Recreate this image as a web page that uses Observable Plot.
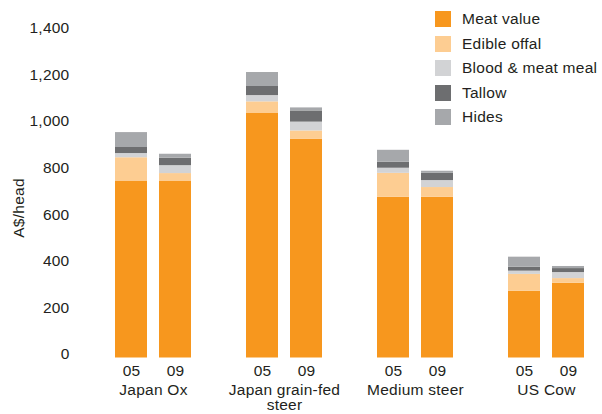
<!DOCTYPE html>
<html>
<head>
<meta charset="utf-8">
<script src="https://cdn.jsdelivr.net/npm/d3@7"></script>
<script src="https://cdn.jsdelivr.net/npm/@observablehq/plot@0.6"></script>
<style>
  body { margin: 0; background: #fff; font-family: "Liberation Sans", Arial, Helvetica, sans-serif; }
  #wrap { position: relative; width: 602px; height: 414px; overflow: hidden; }
  #legend { position: absolute; left: 0; top: 0; font-size: 15.5px; letter-spacing: 0.25px; color: #231f20; }
  .row { position: absolute; left: 435px; display: flex; align-items: center; height: 16px; white-space: nowrap; }
  .sw { width: 16px; height: 16px; margin-right: 11px; flex: none; }
  #ylab { position: absolute; left: 19px; top: 208px; transform: translate(-50%, -50%) rotate(-90deg);
          font-size: 15.5px; letter-spacing: 0.25px; color: #231f20; white-space: nowrap; }
</style>
</head>
<body>
<div id="wrap">
  <div id="chart"></div>
  <div id="ylab">A$/head</div>
  <div id="legend"></div>
</div>
<script>
// ---- data ----
const groups = ["Japan Ox", "Japan grain-fed steer", "Medium steer", "US Cow"];
const years = ["05", "09"];
const parts = ["Meat value", "Edible offal", "Blood & meat meal", "Tallow", "Hides"];
const colors = ["#F7971E", "#FDCD92", "#D2D3D5", "#6D6E70", "#A6A8AB"];
// values ordered: Ox05, Ox09, GF05, GF09, MS05, MS09, US05, US09
const meatValue = [760, 758, 1050, 940, 690, 690, 287, 321];
const edibleOffal = [100, 34, 50, 35, 103, 42, 72, 20];
const bloodMeal = [18, 34, 27, 38, 22, 30, 14, 26];
const tallow = [26, 32, 39, 48, 26, 31, 17, 17];
const hides = [64, 17, 60, 13, 51, 9, 43, 9];
const yTicks = [0, 200, 400, 600, 800, 1000, 1200, 1400];

const series = [meatValue, edibleOffal, bloodMeal, tallow, hides];
const rows = [];
series.forEach((vals, p) => {
  vals.forEach((v, i) => {
    rows.push({group: groups[Math.floor(i / 2)], year: years[i % 2], part: parts[p], value: v});
  });
});

const ink = "#231f20";
const chart = Plot.plot({
  width: 602,
  height: 414,
  marginLeft: 115,
  marginRight: 18,
  marginTop: 31.5,
  marginBottom: 56.5,
  style: {fontSize: "15.5px", letterSpacing: "0.25px", fontFamily: "'Liberation Sans', Arial, Helvetica, sans-serif", color: ink, background: "#fff"},
  fx: {domain: groups, paddingInner: 55 / 131, paddingOuter: 0, round: false, label: null},
  x: {domain: years, paddingInner: 12 / 44, paddingOuter: 0, round: false, label: null},
  y: {domain: [0, 1400], label: null},
  color: {domain: parts, range: colors},
  marks: [
    Plot.barY(rows, {fx: "group", x: "year", y: "value", fill: "part", order: parts}),
    Plot.axisY({ticks: yTicks, tickSize: 0, tickPadding: 46, dy: -3.7, label: null, tickFormat: d3.format(",")}),
    Plot.axisX({tickSize: 0, tickPadding: 7, label: null}),
    Plot.axisFx({anchor: "bottom", tickSize: 0, tickPadding: 25.5, label: null, lineHeight: 1.0,
      tickFormat: d => d === "Japan grain-fed steer" ? "Japan grain-fed\nsteer" : d})
  ]
});
document.getElementById("chart").appendChild(chart);

// legend
const legend = document.getElementById("legend");
const centers = [19, 43.5, 68, 92.5, 117];
parts.forEach((p, i) => {
  const r = document.createElement("div");
  r.className = "row";
  r.style.top = (centers[i] - 8) + "px";
  r.innerHTML = `<span class="sw" style="background:${colors[i]}"></span><span>${p.replace("&", "&amp;")}</span>`;
  legend.appendChild(r);
});
</script>
</body>
</html>
